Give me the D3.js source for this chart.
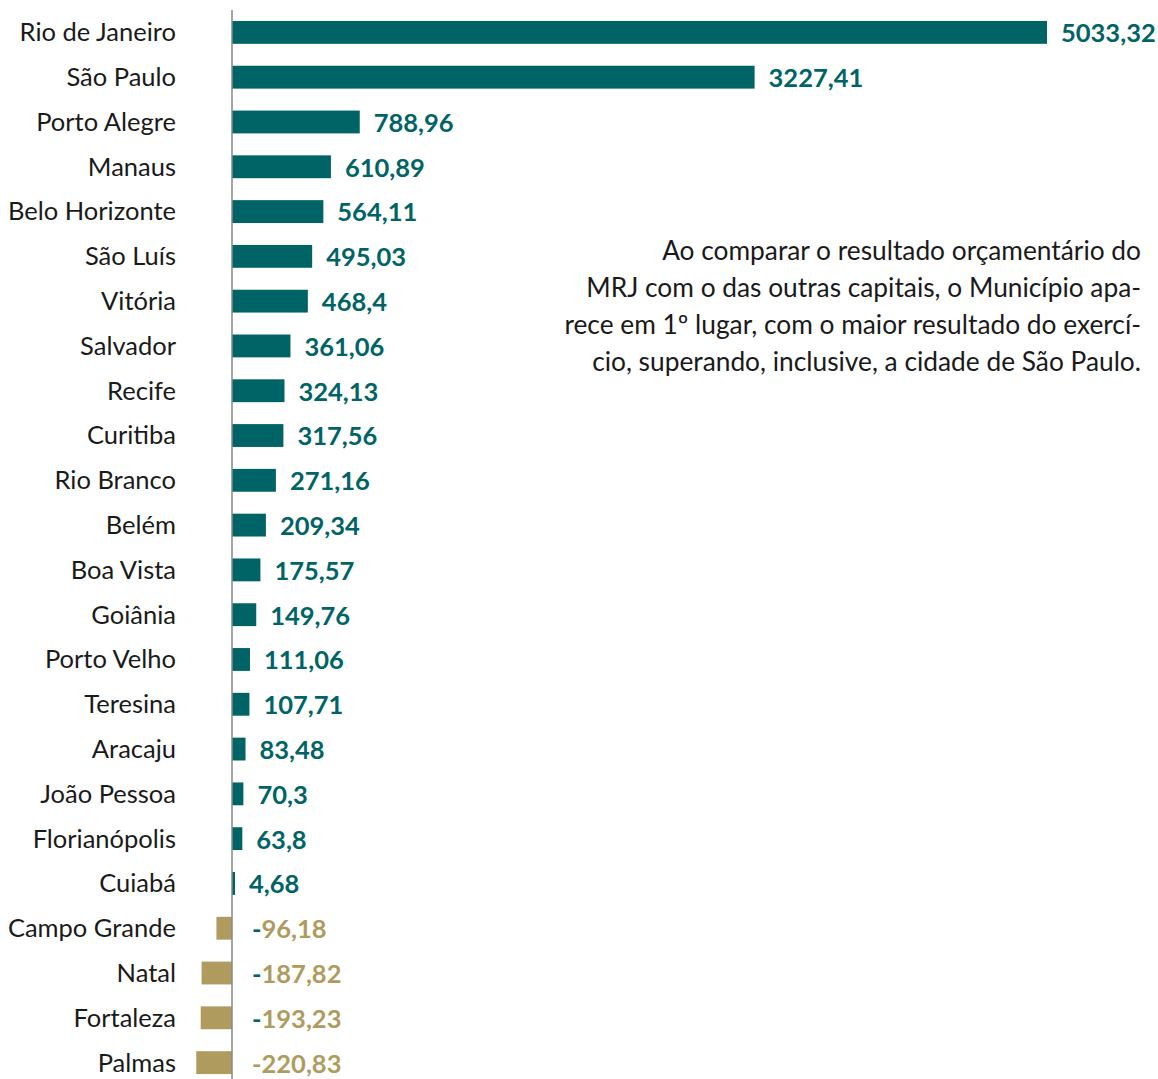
<!DOCTYPE html>
<html lang="pt">
<head>
<meta charset="utf-8">
<title>Resultado orçamentário das capitais</title>
<script src="https://cdn.jsdelivr.net/npm/d3@7"></script>
<style>
body { margin: 0; background: white; font-family: Lato, sans-serif; }
.cat { font-size: 25.5px; fill: #1a1a1a; }
.val { font-size: 25.5px; font-weight: bold; }
.note { font-size: 26.3px; fill: #1a1a1a; }
</style>
</head>
<body>
<svg id="chart" width="1158" height="1079"></svg>
<script>
var cities = ["Rio de Janeiro", "São Paulo", "Porto Alegre", "Manaus", "Belo Horizonte",
  "São Luís", "Vitória", "Salvador", "Recife", "Curitiba", "Rio Branco", "Belém",
  "Boa Vista", "Goiânia", "Porto Velho", "Teresina", "Aracaju", "João Pessoa",
  "Florianópolis", "Cuiabá", "Campo Grande", "Natal", "Fortaleza", "Palmas"];
var values = [5033.32, 3227.41, 788.96, 610.89, 564.11, 495.03, 468.4, 361.06, 324.13,
  317.56, 271.16, 209.34, 175.57, 149.76, 111.06, 107.71, 83.48, 70.3, 63.8, 4.68,
  -96.18, -187.82, -193.23, -220.83];
// in the original, the minus sign of these labels is printed in the positive colour
var tealMinus = ["Campo Grande", "Natal", "Fortaleza"];

var note = ["Ao comparar o resultado orçamentário do",
  "MRJ com o das outras capitais, o Município apa-",
  "rece em 1º lugar, com o maior resultado do exercí-",
  "cio, superando, inclusive, a cidade de São Paulo."];

var teal = "#006466", gold = "#b09b5f";

var svg = d3.select("#chart");
var data = cities.map(function(c, i) { return {city: c, value: values[i]}; });

var x = d3.scaleLinear().domain([0, 5033.32]).range([232, 1047]);
var y = d3.scaleBand().domain(cities).range([10, 1085]).paddingInner(0.49).paddingOuter(0.245);

svg.selectAll("rect.bar")
  .data(data)
  .enter().append("rect")
  .attr("class", "bar")
  .attr("x", function(d) { return Math.min(x(0), x(d.value)); })
  .attr("y", function(d) { return y(d.city); })
  .attr("width", function(d) { return Math.max(3, Math.abs(x(d.value) - x(0))); })
  .attr("height", y.bandwidth())
  .attr("fill", function(d) { return d.value < 0 ? gold : teal; });

svg.append("line")
  .attr("x1", x(0)).attr("x2", x(0))
  .attr("y1", 10).attr("y2", 1079)
  .attr("stroke", "#888").attr("stroke-width", 1.5);

svg.selectAll("text.cat")
  .data(data)
  .enter().append("text")
  .attr("class", "cat")
  .attr("x", 176)
  .attr("y", function(d) { return y(d.city) + y.bandwidth() / 2; })
  .attr("dy", "0.35em")
  .attr("text-anchor", "end")
  .text(function(d) { return d.city; });

var fmt = function(v) { return String(Math.abs(v)).replace(".", ","); };

var labels = svg.selectAll("text.val")
  .data(data)
  .enter().append("text")
  .attr("class", "val")
  .attr("x", function(d) { return d.value < 0 ? x(0) + 20 : Math.max(x(d.value), x(0) + 3) + 14; })
  .attr("y", function(d) { return y(d.city) + y.bandwidth() / 2 + 1; })
  .attr("dy", "0.35em")
  .attr("fill", function(d) { return d.value < 0 ? gold : teal; });

labels.filter(function(d) { return d.value < 0; })
  .append("tspan")
  .attr("fill", function(d) { return tealMinus.indexOf(d.city) >= 0 ? teal : gold; })
  .text("-");
labels.append("tspan").text(function(d) { return fmt(d.value); });

svg.selectAll("text.note")
  .data(note)
  .enter().append("text")
  .attr("class", "note")
  .attr("x", 1141)
  .attr("y", function(d, i) { return 251 + i * 37; })
  .attr("dy", "0.35em")
  .attr("text-anchor", "end")
  .text(function(d) { return d; });
</script>
</body>
</html>
